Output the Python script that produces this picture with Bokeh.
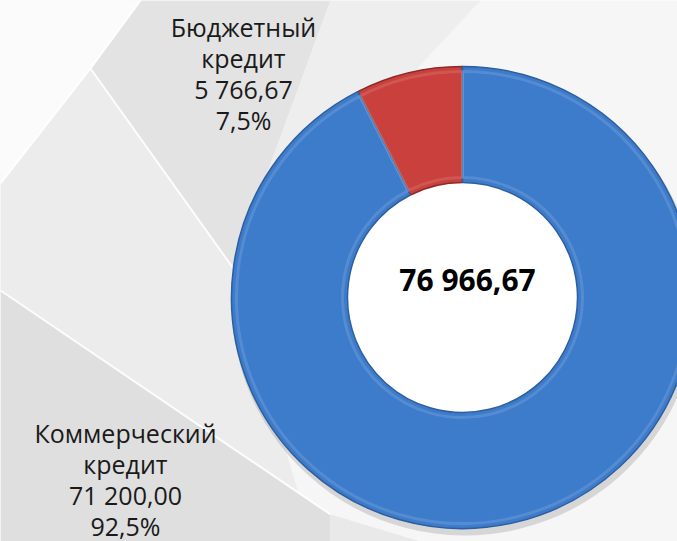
import math
from bokeh.plotting import figure
from bokeh.models import Range1d, ColumnDataSource
from bokeh.core.properties import value
from bokeh.embed import file_html
from bokeh.resources import INLINE

# ---- data ----
categories = ["Бюджетный кредит", "Коммерческий кредит"]
values = [5766.67, 71200.00]
colors = ["#c9403c", "#3d7bcb"]
edge_colors = ["#8e2a27", "#2d5e9e"]

total = sum(values)


def fmt_num(v):
    return f"{v:,.2f}".replace(",", " ").replace(".", ",")


def fmt_pct(v):
    return f"{100.0 * v / total:.1f}".replace(".", ",") + "%"


W, H = 677, 541


def px(x):
    return x


def py(y):
    return H - y


p = figure(width=W, height=H, x_range=Range1d(0, W), y_range=Range1d(0, H),
           output_backend="svg", toolbar_location=None, min_border=0)
p.axis.visible = False
p.grid.visible = False
p.outline_line_color = None
p.background_fill_color = "#f6f6f6"
p.border_fill_color = "#ffffff"

# ---- decorative slide background ----
def poly(pts, color):
    p.patch([px(a) for a, b in pts], [py(b) for a, b in pts], fill_color=color,
            line_color=None)

poly([(0, 0), (140, 0), (90, 68), (0, 183)], "#fbfbfb")
poly([(140, 0), (330, 0), (232, 267), (90, 68)], "#e3e3e3")
poly([(330, 0), (480, 0), (232, 267)], "#eeeeee")
poly([(0, 183), (90, 68), (232, 267), (300, 500), (0, 290)], "#ececec")
poly([(0, 290), (330, 514), (330, 541), (0, 541)], "#dfdfdf")
poly([(330, 514), (420, 541), (330, 541)], "#e9e9e9")

for (x0, y0), (x1, y1) in [((140, 0), (90, 68)), ((90, 68), (240, 278)),
                           ((90, 68), (0, 183)), ((0, 290), (330, 514))]:
    p.line([px(x0), px(x1)], [py(y0), py(y1)], line_color="#ffffff",
           line_width=2, line_alpha=0.9)

# ---- donut ----
cx, cy = px(462), py(297)
r_out, r_in = 231, 115

starts, ends = [], []
a = math.pi / 2
for v in values:
    starts.append(a)
    a += 2 * math.pi * v / total
    ends.append(a)

src = ColumnDataSource(dict(cat=categories, val=values, start=starts, end=ends,
                            color=colors, edge=edge_colors))

# soft shadow
p.annular_wedge(x=cx + 2, y=cy - 5, inner_radius=r_in - 2, outer_radius=r_out + 2,
                start_angle="start", end_angle="end", source=src,
                fill_color="#9a9a9a", fill_alpha=0.35, line_color=None)
# hole background
p.circle(x=cx, y=cy, radius=r_in, fill_color="#ffffff", line_color=None)

p.annular_wedge(x=cx, y=cy, inner_radius=r_in, outer_radius=r_out,
                start_angle="start", end_angle="end", source=src,
                fill_color="color", line_color="edge", line_width=1.5)

# bevel highlight
p.annular_wedge(x=cx, y=cy, inner_radius=r_in + 5, outer_radius=r_out - 5,
                start_angle="start", end_angle="end", source=src,
                fill_color=None, line_color="#ffffff", line_alpha=0.12,
                line_width=3)

# ---- labels ----
label_pos = [(243, 26), (125, 432)]
line_gap = 31
font = value("Open Sans")
for i, cat in enumerate(categories):
    lines = cat.split(" ") + [fmt_num(values[i]), fmt_pct(values[i])]
    x0, y0 = label_pos[i]
    p.text(x=[px(x0)] * len(lines), y=[py(y0 + k * line_gap) for k in range(len(lines))],
           text=lines, text_font=font, text_font_size="25px", text_color="#1a1a1a",
           text_align="center", text_baseline="middle")

p.text(x=[px(467)], y=[py(279)], text=[fmt_num(total)], text_font=font,
       text_font_size="30px", text_font_style="bold", text_color="#000000",
       text_align="center", text_baseline="middle")

open("out.html", "w").write(file_html(p, INLINE))
